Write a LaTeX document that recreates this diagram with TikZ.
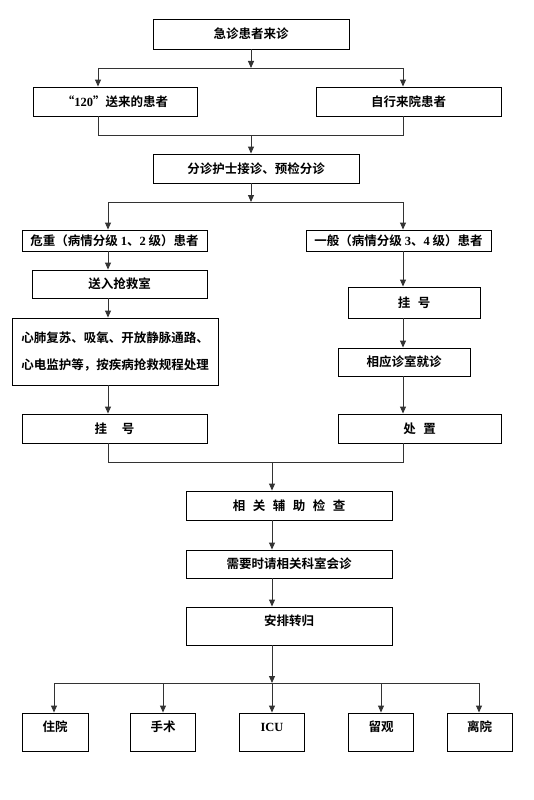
\documentclass[tikz,border=0pt]{standalone}
\usepackage{fontspec}
\setmainfont{Noto Sans CJK SC}[BoldFont={Noto Sans CJK SC Bold}]
\newfontfamily\latfont{Liberation Serif}
\usetikzlibrary{arrows.meta}
\begin{document}
\begin{tikzpicture}[x=1pt,y=-1pt,
  box/.style={draw,line width=0.9pt,inner sep=0pt,font=\fontsize{12.5}{15}\selectfont\bfseries},
  upbox/.style={box,text height=9pt,text depth=10pt},
  conn/.style={draw=black!80,line width=0.9pt},
  arr/.style={conn,-{Triangle[length=7pt,width=6pt]}}]
\useasboundingbox (0,0) rectangle (533,800);
% nodes
\node[box,minimum width=196pt,minimum height=30pt] (top) at (251,34) {急诊患者来诊};
\node[box,minimum width=164pt,minimum height=29pt] (a120) at (115,101.5) {“{\latfont 120}”送来的患者};
\node[box,minimum width=185pt,minimum height=29pt] (self) at (408.5,101.5) {自行来院患者};
\node[box,minimum width=206pt,minimum height=29pt] (triage) at (256,168.5) {分诊护士接诊、预检分诊};
\node[box,minimum width=185pt,minimum height=21pt] (crit) at (114.5,240.5) {危重（病情分级 {\latfont 1}、{\latfont 2} 级）患者};
\node[box,minimum width=185pt,minimum height=21pt] (gen) at (398.5,240.5) {一般（病情分级 {\latfont 3}、{\latfont 4} 级）患者};
\node[box,minimum width=175pt,minimum height=28pt] (rescue) at (119.5,284) {送入抢救室};
\node[box,minimum width=206pt,minimum height=67pt,align=center,font=\fontsize{12.5}{27}\selectfont\bfseries] (cpr) at (115,351.5) {心肺复苏、吸氧、开放静脉通路、\\心电监护等，按疾病抢救规程处理};
\node[box,minimum width=185pt,minimum height=29pt] (regL) at (114.5,428.5) {挂\hspace{1.2em}号};
\node[box,minimum width=132pt,minimum height=31pt] (regR) at (414,302.5) {挂\hspace{0.6em}号};
\node[box,minimum width=132pt,minimum height=28pt] (clinic) at (404,362) {相应诊室就诊};
\node[box,minimum width=163pt,minimum height=29pt] (treat) at (419.5,428.5) {处\hspace{0.6em}置};
\node[box,minimum width=206pt,minimum height=29pt] (aux) at (289,505.5) {相\hspace{0.6em}关\hspace{0.6em}辅\hspace{0.6em}助\hspace{0.6em}检\hspace{0.6em}查};
\node[box,minimum width=206pt,minimum height=28pt] (consult) at (289,564) {需要时请相关科室会诊};
\node[upbox,minimum width=206pt,minimum height=38pt] (arrange) at (289,626) {安排转归};
\node[upbox,minimum width=66pt,minimum height=38pt] (o1) at (55,732) {住院};
\node[upbox,minimum width=65pt,minimum height=38pt] (o2) at (163,732) {手术};
\node[upbox,minimum width=65pt,minimum height=38pt] (o3) at (272,732) {\latfont ICU};
\node[upbox,minimum width=65pt,minimum height=38pt] (o4) at (381,732) {留观};
\node[upbox,minimum width=65pt,minimum height=38pt] (o5) at (479.5,732) {离院};
% junction coordinates
\coordinate (j1) at (251,68); \coordinate (j1L) at (98,68); \coordinate (j1R) at (403,68);
\coordinate (j2) at (251,135); \coordinate (j2L) at (98,135); \coordinate (j2R) at (403,135);
\coordinate (j3) at (251,202); \coordinate (j3L) at (108,202); \coordinate (j3R) at (403,202);
\coordinate (j4) at (272,462); \coordinate (j4L) at (108,462); \coordinate (j4R) at (403,462);
\coordinate (j5) at (272,683); \coordinate (j5L) at (54,683); \coordinate (j5R) at (479,683);
% connectors
\draw[arr] (top.south -| j1) -- (j1);
\draw[conn] (j1L) -- (j1R);
\draw[arr] (j1L) -- (a120.north -| j1L);
\draw[arr] (j1R) -- (self.north -| j1R);
\draw[conn] (a120.south -| j2L) -- (j2L) -- (j2R) -- (self.south -| j2R);
\draw[arr] (j2) -- (triage.north -| j2);
\draw[arr] (triage.south -| j3) -- (j3);
\draw[conn] (j3L) -- (j3R);
\draw[arr] (j3L) -- (crit.north -| j3L);
\draw[arr] (j3R) -- (gen.north -| j3R);
\draw[arr] (crit.south -| j3L) -- (rescue.north -| j3L);
\draw[arr] (rescue.south -| j3L) -- (cpr.north -| j3L);
\draw[arr] (cpr.south -| j3L) -- (regL.north -| j3L);
\draw[arr] (gen.south -| j3R) -- (regR.north -| j3R);
\draw[arr] (regR.south -| j3R) -- (clinic.north -| j3R);
\draw[arr] (clinic.south -| j3R) -- (treat.north -| j3R);
\draw[conn] (regL.south -| j4L) -- (j4L) -- (j4R) -- (treat.south -| j4R);
\draw[arr] (j4) -- (aux.north -| j4);
\draw[arr] (aux.south -| j4) -- (consult.north -| j4);
\draw[arr] (consult.south -| j4) -- (arrange.north -| j4);
\draw[arr] (arrange.south -| j5) -- (j5);
\draw[conn] (j5L) -- (j5R);
\draw[arr] (j5L) -- (o1.north -| j5L);
\draw[arr] (j5 -| o2.north) -- (o2.north);
\draw[arr] (j5) -- (o3.north);
\draw[arr] (j5 -| o4.north) -- (o4.north);
\draw[arr] (j5R) -- (o5.north -| j5R);
\end{tikzpicture}
\end{document}
